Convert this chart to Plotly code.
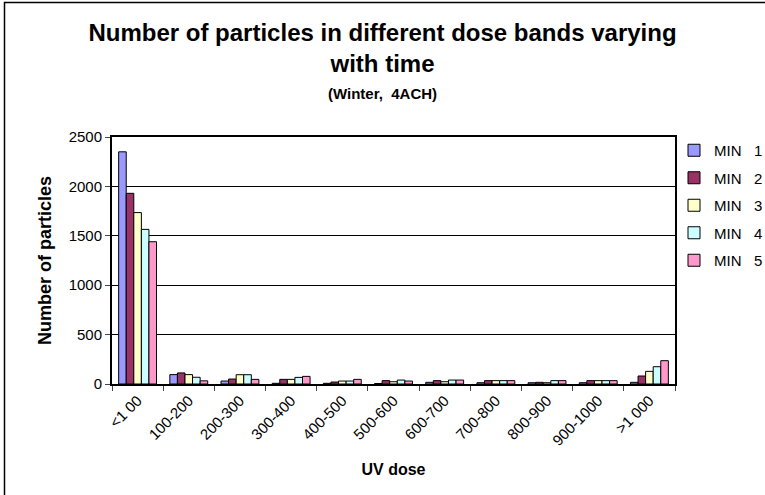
import plotly.graph_objects as go

categories = ["<1 00", "100-200", "200-300", "300-400", "400-500", "500-600",
              "600-700", "700-800", "800-900", "900-1000", ">1 000"]
series_names = ["MIN\u00a0\u00a0\u00a01", "MIN\u00a0\u00a0\u00a02", "MIN\u00a0\u00a0\u00a03",
                "MIN\u00a0\u00a0\u00a04", "MIN\u00a0\u00a0\u00a05"]
min1 = [2350, 95, 30, 7, 7, 5, 17, 13, 13, 13, 17]
min2 = [1930, 112, 50, 47, 20, 34, 34, 34, 17, 34, 81]
min3 = [1735, 95, 94, 47, 30, 23, 23, 34, 13, 34, 128]
min4 = [1565, 68, 94, 67, 30, 40, 40, 34, 34, 34, 175]
min5 = [1440, 32, 47, 77, 47, 30, 40, 34, 34, 34, 236]
colors = ["#9999FF", "#993366", "#FFFFCC", "#CCFFFF", "#FF99CC"]

FONT = "Liberation Sans, Arial, sans-serif"

fig = go.Figure()
for i, (name, vals) in enumerate(zip(series_names, [min1, min2, min3, min4, min5])):
    fig.add_trace(go.Bar(
        x=categories, y=vals, name=name, legendgroup=f"g{i}",
        marker=dict(color=colors[i], line=dict(color="black", width=1)),
    ))

# plot area in pixels: left 112, right 675, top 137, bottom 384
L, R, T, B = 112, 675, 137, 384
pw, ph = R - L, B - T

# outer chart frame (only top and left edges visible in the reference)
fig.add_shape(type="rect", xref="paper", yref="paper",
              x0=(4.5 - L) / pw, x1=(820 - L) / pw,
              y0=(B - 560) / ph, y1=(B - 2.5) / ph,
              line=dict(color="black", width=1.5), layer="below")

# subtitle
fig.add_annotation(text="<b>(Winter,\u00a0\u00a04ACH)</b>", xref="paper", yref="paper",
                   x=(382.5 - L) / pw, y=(B - 93) / ph, showarrow=False,
                   xanchor="center", yanchor="middle", font=dict(size=15, family=FONT))

fig.update_layout(
    width=765, height=495,
    margin=dict(l=L, r=765 - R, t=T, b=495 - B, autoexpand=False),
    paper_bgcolor="white", plot_bgcolor="white",
    font=dict(family=FONT, color="black", size=14),
    title=dict(
        text="<b>Number of particles in different dose bands varying<br>with time</b>",
        x=0.5, xanchor="center", y=1 - 41 / 495, yanchor="top",
        font=dict(size=24, family=FONT),
    ),
    barmode="group", bargap=0.26, bargroupgap=0,
    showlegend=True,
    legend=dict(x=(674 - L) / pw, y=(B - 134) / ph, xanchor="left", yanchor="top",
                font=dict(size=15, family=FONT), tracegroupgap=5,
                bgcolor="rgba(0,0,0,0)"),
)
fig.update_xaxes(
    type="category", tickson="boundaries", ticks="outside", ticklen=5,
    tickangle=-45, showline=True, linecolor="black", linewidth=2, mirror=True,
    showgrid=False, tickfont=dict(size=15),
    title=dict(text="<b>UV dose</b>", font=dict(size=16), standoff=16),
)
fig.update_yaxes(
    range=[0, 2500], dtick=500, ticks="outside", ticklen=5,
    showline=True, linecolor="black", linewidth=2, mirror=True,
    showgrid=True, gridcolor="black", gridwidth=1, zeroline=False,
    tickfont=dict(size=15),
    title=dict(text="<b>Number of particles</b>", font=dict(size=18), standoff=12),
)

fig.write_html("out.html", config={"displayModeBar": False},
               post_script="document.body.style.margin='0px';")
